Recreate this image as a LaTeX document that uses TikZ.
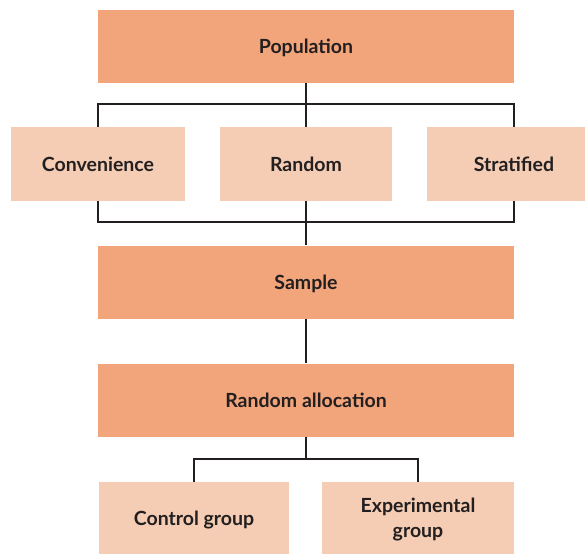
\documentclass[tikz,border=0pt]{standalone}
\usepackage{fontspec}
\setmainfont{Lato}
\definecolor{boxdark}{HTML}{F2A57A}
\definecolor{boxlight}{HTML}{F4CDB4}
\definecolor{ink}{HTML}{231F20}
\begin{document}
\begin{tikzpicture}[x=1pt,y=-1pt,
  lbl/.style={text=ink,font=\fontsize{19.5}{25}\selectfont\bfseries,align=center,inner sep=0pt,
    text height=14pt,text depth=0pt},
  mainbox/.style={lbl,fill=boxdark,minimum width=416pt,minimum height=73pt},
  subbox/.style={lbl,fill=boxlight,minimum height=74pt},
  link/.style={draw=ink,line width=1.8pt,line join=miter}]
\useasboundingbox (0,0) rectangle (585,554);
\clip (0,0) rectangle (585,554);

% stages of the study
\node[mainbox] (pop)    at (306,46)  {Population};
\node[mainbox] (sample) at (306,282) {Sample};
\node[mainbox] (alloc)  at (306,400) {Random allocation};

% sampling methods
\node[subbox,minimum width=174pt] (conv)   at (98,164)  {Convenience};
\node[subbox,minimum width=172pt] (random) at (306,164) {Random};
\node[subbox,minimum width=174pt] (strat)  at (514,164) {Stratified};

% groups
\node[subbox,minimum width=190pt,minimum height=72pt] (ctrl) at (194,518) {Control group};
\node[subbox,minimum width=192pt,minimum height=72pt,text height=38pt,text depth=0pt] (expt) at (418,518) {Experimental\\group};

% bus lines
\coordinate (topbus) at (306,104);
\coordinate (botbus) at (306,222);
\coordinate (grpbus) at (306,459);

\draw[link] (pop.south) -- (random.north);
\draw[link] (conv.north) |- (topbus) -| (strat.north);
\draw[link] (conv.south) |- (botbus) -| (strat.south);
\draw[link] (random.south) -- (sample.north);
\draw[link] (sample.south) -- (alloc.north);
\draw[link] (alloc.south) -- (grpbus);
\draw[link] (ctrl.north) |- (grpbus) -| (expt.north);
\end{tikzpicture}
\end{document}
